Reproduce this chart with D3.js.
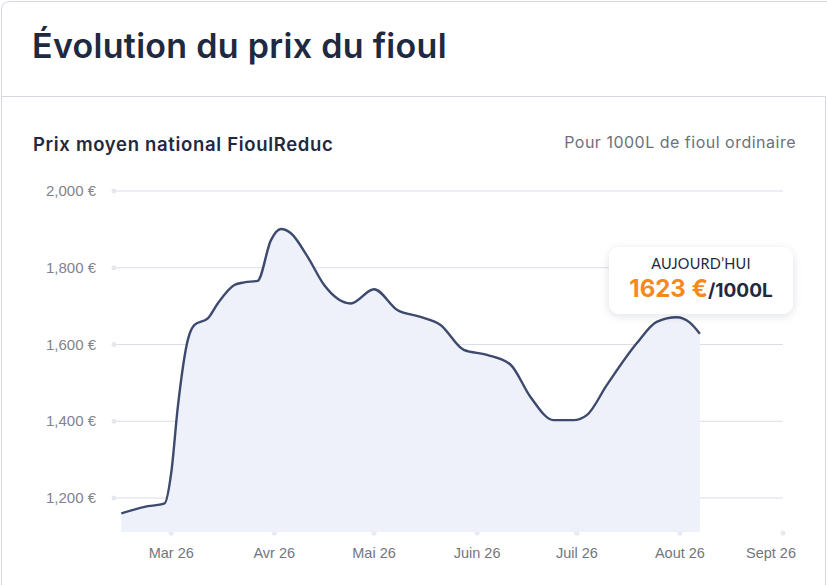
<!DOCTYPE html>
<html lang="fr">
<head>
<meta charset="utf-8">
<script src="https://cdn.jsdelivr.net/npm/d3@7"></script>
<style>
  html, body { margin: 0; padding: 0; background: #fff; }
  svg { display: block; }
</style>
</head>
<body>
<svg id="chart" width="827" height="585"></svg>
<script>
// ---- data ----
const dates = ["2026-02-14","2026-02-21","2026-02-27","2026-03-01","2026-03-03","2026-03-06","2026-03-08","2026-03-12","2026-03-15","2026-03-20","2026-03-23","2026-03-27","2026-03-31","2026-04-03","2026-04-06","2026-04-11","2026-04-16","2026-04-24","2026-05-01","2026-05-08","2026-05-15","2026-05-21","2026-05-28","2026-06-04","2026-06-11","2026-06-17","2026-06-24","2026-06-30","2026-07-04","2026-07-10","2026-07-19","2026-07-25","2026-07-31","2026-08-04","2026-08-07"];
const prices = [1160,1177,1186,1265,1438,1612,1651,1668,1707,1755,1762,1766,1872,1901,1890,1829,1755,1707,1744,1690,1672,1651,1586,1573,1548,1464,1403,1403,1416,1494,1603,1659,1671,1657,1628];
const yTicks = [1200, 1400, 1600, 1800, 2000];
const xTickDates = ["2026-03-01","2026-04-01","2026-05-01","2026-06-01","2026-07-01","2026-08-01","2026-09-01"];
const xTickLabels = ["Mar 26","Avr 26","Mai 26","Juin 26","Juil 26","Aout 26","Sept 26"];
const todayPrice = 1623;

const title = "Évolution du prix du fioul";
const subtitle = "Prix moyen national FioulReduc";
const note = "Pour 1000L de fioul ordinaire";

// ---- layout ----
const W = 827, H = 585;
const plotLeft = 118, plotRight = 783, plotBottom = 532, labelRightLimit = 796;
const parse = d3.utcParse("%Y-%m-%d");
const data = dates.map((d, i) => ({ date: parse(d), value: prices[i] }));

const x = d3.scaleUtc()
  .domain([parse("2026-02-13"), parse("2026-09-01")])
  .range([plotLeft, plotRight]);
const y = d3.scaleLinear().domain([1200, 2000]).range([498, 191]);

const svg = d3.select("#chart");

// card borders
const borderColor = "#d6d8e0";
svg.append("path")
  .attr("d", `M1.5,${H} L1.5,10 Q1.5,1.5 10,1.5 L${W},1.5`)
  .attr("fill", "none").attr("stroke", borderColor).attr("stroke-width", 1);
svg.append("path")
  .attr("d", `M1.5,96.5 L825.5,96.5 L825.5,${H}`)
  .attr("fill", "none").attr("stroke", borderColor).attr("stroke-width", 1);

// titles
svg.append("text").attr("x", 32).attr("y", 58)
  .attr("font-family", "Inter, 'Noto Sans', sans-serif")
  .attr("font-weight", 600).attr("font-size", 34).attr("letter-spacing", 0.3).attr("fill", "#1f2940")
  .text(title);
svg.append("text").attr("x", 33).attr("y", 151)
  .attr("font-family", "Inter, 'Noto Sans', sans-serif")
  .attr("font-weight", 600).attr("font-size", 18.5).attr("letter-spacing", 0.68).attr("fill", "#1f2940")
  .text(subtitle);
svg.append("text").attr("x", 796).attr("y", 148).attr("text-anchor", "end")
  .attr("font-family", "Inter, 'Noto Sans', sans-serif")
  .attr("font-weight", 400).attr("font-size", 16).attr("letter-spacing", 0.5).attr("fill", "#6c717d")
  .text(note);

// grid lines
const grid = svg.append("g");
yTicks.forEach(t => {
  grid.append("line")
    .attr("x1", plotLeft - 4).attr("x2", plotRight)
    .attr("y1", y(t)).attr("y2", y(t))
    .attr("stroke", "#dcdee7").attr("stroke-width", 1.2);
  grid.append("circle").attr("cx", plotLeft - 4).attr("cy", y(t)).attr("r", 2.5)
    .attr("fill", "#e6e8ef");
  grid.append("text").attr("x", 96).attr("y", y(t) + 5).attr("text-anchor", "end")
    .attr("font-family", "'Liberation Sans', Arial, sans-serif")
    .attr("font-size", 15).attr("fill", "#80838c")
    .text(d3.format(",")(t) + " €");
});

// x tick dots + labels
xTickDates.forEach((d, i) => {
  const xx = x(parse(d));
  svg.append("circle").attr("cx", xx).attr("cy", plotBottom + 1).attr("r", 2.6).attr("fill", "#e8eaf2");
  const lbl = svg.append("text").attr("x", xx).attr("y", 558).attr("text-anchor", "middle")
    .attr("font-family", "'Liberation Sans', Arial, sans-serif")
    .attr("font-size", 14.5).attr("fill", "#727680")
    .text(xTickLabels[i]);
  const bb = lbl.node().getBBox();
  if (bb.x + bb.width > labelRightLimit) {
    lbl.attr("text-anchor", "end").attr("x", labelRightLimit);
  }
});

// area + line
const area = d3.area().x(d => x(d.date)).y0(plotBottom).y1(d => y(d.value)).curve(d3.curveMonotoneX);
const line = d3.line().x(d => x(d.date)).y(d => y(d.value)).curve(d3.curveMonotoneX);
svg.append("path").datum(data).attr("d", area).attr("fill", "#eef1f9");
svg.append("path").datum(data).attr("d", line).attr("fill", "none")
  .attr("stroke", "#3d4a6d").attr("stroke-width", 2.4).attr("stroke-linejoin", "round");

// tooltip
const defs = svg.append("defs");
const f = defs.append("filter").attr("id", "shadow").attr("x", "-20%").attr("y", "-30%").attr("width", "140%").attr("height", "170%");
f.append("feDropShadow").attr("dx", 0).attr("dy", 2).attr("stdDeviation", 4).attr("flood-color", "#1f2940").attr("flood-opacity", 0.13);
const tip = svg.append("g");
tip.append("rect").attr("x", 609).attr("y", 247).attr("width", 184).attr("height", 67).attr("rx", 11)
  .attr("fill", "#fff").attr("filter", "url(#shadow)");
tip.append("text").attr("x", 701).attr("y", 269).attr("text-anchor", "middle")
  .attr("font-family", "Lato, 'Noto Sans', sans-serif").attr("font-size", 14.5)
  .attr("letter-spacing", 0.2).attr("fill", "#1f2940")
  .text("AUJOURD’HUI");
const t2 = tip.append("text").attr("x", 701).attr("y", 297).attr("text-anchor", "middle")
  .attr("font-family", "Inter, 'Noto Sans', sans-serif").attr("font-weight", 700);
t2.append("tspan").attr("font-size", 24).attr("fill", "#f5891c").text(todayPrice + " €");
t2.append("tspan").attr("font-size", 19).attr("fill", "#1f2940").text("/1000L");
</script>
</body>
</html>
